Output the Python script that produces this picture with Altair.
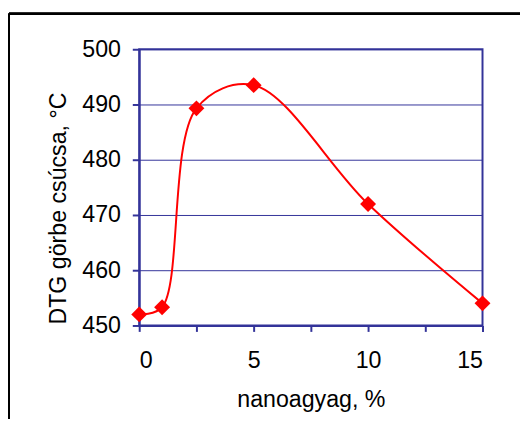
import altair as alt
import pandas as pd

nano = [0, 1, 2.5, 5, 10, 15]
peak = [452, 453.3, 489.3, 493.5, 472, 454]
x_ticks = [0, 2.5, 5, 7.5, 10, 12.5, 15]
y_ticks = [450, 460, 470, 480, 490, 500]

df = pd.DataFrame({"x": nano, "y": peak})

NAVY = "#333399"
FONT = "Liberation Sans"
FS = 23.5

x_enc = alt.X("x:Q", scale=alt.Scale(domain=[0, 15], nice=False),
              axis=alt.Axis(title="nanoagyag, %", values=x_ticks,
                            labelExpr="datum.value % 5 == 0 ? datum.label : ''",
                            grid=False, tickSize=6, tickColor=NAVY, tickWidth=2,
                            domainColor=NAVY, domainWidth=2,
                            labelFontSize=FS, labelFont=FONT, labelColor="black",
                            labelBaseline="alphabetic", labelPadding=37,
                            titleFontSize=FS, titleFont=FONT, titleFontWeight="normal",
                            titleColor="black", titleBaseline="alphabetic", titleY=82))
y_enc = alt.Y("y:Q", scale=alt.Scale(domain=[450, 500], nice=False, zero=False),
              axis=alt.Axis(title="DTG görbe csúcsa, °C", values=y_ticks,
                            grid=True, gridColor=NAVY, gridWidth=1,
                            tickSize=7, tickColor=NAVY, tickWidth=2,
                            domainColor=NAVY, domainWidth=2,
                            labelFontSize=FS, labelFont=FONT, labelColor="black",
                            labelPadding=12,
                            titleFontSize=FS, titleFont=FONT, titleFontWeight="normal",
                            titleColor="black", titleX=-70, titleY=161))

line = alt.Chart(df).mark_line(color="red", strokeWidth=2, interpolate="catmull-rom").encode(x=x_enc, y=y_enc)
pts = alt.Chart(df).mark_point(shape="diamond", filled=True, color="red", size=260, opacity=1).encode(x="x:Q", y="y:Q")

border_top = alt.Chart(df).mark_rule(color="black", strokeWidth=2).encode(
    x=alt.value(-132), x2=alt.value(600), y=alt.value(-36))
border_left = alt.Chart(df).mark_rule(color="black", strokeWidth=2).encode(
    x=alt.value(-132), y=alt.value(-36), y2=alt.value(600))

chart = alt.layer(line, pts, border_top, border_left).properties(
    width=348, height=280,
    autosize=alt.AutoSizeParams(type="none"),
    padding={"left": 133, "top": 39, "right": 38, "bottom": 92},
).configure_view(stroke=NAVY, strokeWidth=2)

chart.save("out.html", embed_options={"renderer": "svg", "actions": False})
